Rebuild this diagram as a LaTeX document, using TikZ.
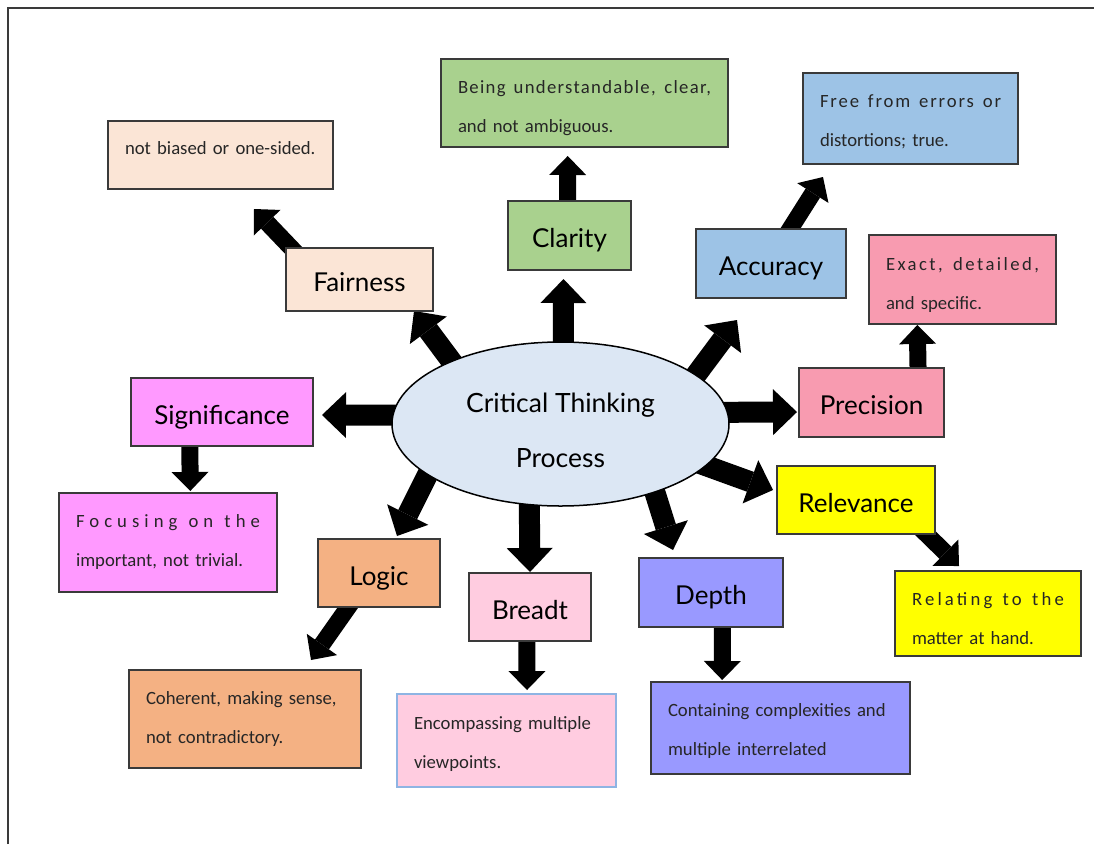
\documentclass[tikz,border=0pt]{standalone}
\usepackage{fontspec}
\setmainfont{Carlito}
\newfontfamily\labelfont{Lato}
\newfontfamily\descfont{Carlito}
\usetikzlibrary{arrows.meta,shapes.geometric,backgrounds}

\definecolor{boxline}{HTML}{3A3A3A}
\definecolor{coreblue}{HTML}{DCE7F4}
\definecolor{clgreen}{HTML}{A9D18E}
\definecolor{acblue}{HTML}{9DC3E6}
\definecolor{fapeach}{HTML}{FBE5D6}
\definecolor{prpink}{HTML}{F89BB0}
\definecolor{simagenta}{HTML}{FF99FF}
\definecolor{reyellow}{HTML}{FFFF00}
\definecolor{loorange}{HTML}{F4B183}
\definecolor{brpink}{HTML}{FFCCE0}
\definecolor{brline}{HTML}{8EB4E3}
\definecolor{deviolet}{HTML}{9999FF}

% one justified, letter-spaced line: width (pt), tracking, text
\newcommand\jl[3]{\makebox[#1pt][s]{\spaceskip=0pt\xspaceskip=0pt\addfontfeature{LetterSpace=#2}#3}}
% taller first line, to lower a text inside its shape
\newcommand\lift[1]{\rule{0pt}{#1pt}}

\tikzset{
  topic/.style={draw=boxline, line width=1.1pt, inner sep=0pt,
    text height=26pt, text depth=2pt,
    font=\labelfont\fontsize{26}{31}\selectfont},
  note/.style={draw=boxline, line width=1.1pt, inner xsep=17pt, inner ysep=0pt,
    align=left, font=\descfont\fontsize{18.7}{39}\selectfont, text=black!85},
  bigarrow/.style={line width=21pt, shorten <=-10pt,
    -{Triangle[width=46pt,length=24pt,line width=0pt]}},
  smallarrow/.style={line width=17pt, shorten <=-8pt,
    -{Triangle[width=37pt,length=19pt,line width=0pt]}}
}

\begin{document}
\begin{tikzpicture}[x=1pt,y=-1pt]
\useasboundingbox (0,0) rectangle (1094,844);

% page frame
\draw[line width=2pt, boxline] (8,844) -- (8,8) -- (1094,8);

% central idea
\node[ellipse, draw=black, line width=1.5pt, fill=coreblue, inner sep=0pt,
      minimum width=337pt, minimum height=164pt, align=center,
      font=\labelfont\fontsize{26.5}{55}\selectfont] (ct) at (560.5,424)
      {\lift{32}Critical Thinking\\Process};

% standards
\node[topic, fill=clgreen,   minimum width=123pt, minimum height=69pt] (cl) at (569.5,235.5) {Clarity};
\node[topic, fill=acblue,    minimum width=150pt, minimum height=69pt] (ac) at (771,263.5) {Accuracy};
\node[topic, fill=fapeach,   minimum width=147pt, minimum height=63pt] (fa) at (359.5,279.5) {Fairness};
\node[topic, fill=prpink,    minimum width=145pt, minimum height=69pt] (pr) at (871.5,402.5) {Precision};
\node[topic, fill=simagenta, minimum width=182pt, minimum height=68pt] (si) at (222,412) {Significance};
\node[topic, fill=reyellow,  minimum width=158pt, minimum height=68pt] (re) at (856,500) {Relevance};
\node[topic, fill=loorange,  minimum width=122pt, minimum height=68pt] (lo) at (379,573) {Logic};
\node[topic, fill=brpink,    minimum width=122pt, minimum height=68pt] (br) at (530,607) {Breadt};
\node[topic, fill=deviolet,  minimum width=144pt, minimum height=69pt] (de) at (711,592.5) {Depth};

% definitions
\node[note, fill=clgreen, text width=253pt, minimum height=88pt] (cld) at (584.5,103)
  {\lift{24}\jl{253}{7}{Being understandable, clear,}\\and not ambiguous.};
\node[note, fill=acblue, text width=181pt, minimum height=91pt] (acd) at (910.5,118.5)
  {\lift{20}\jl{181}{10}{Free from errors or}\\distortions; true.};
\node[note, fill=fapeach, text width=191pt, minimum height=68pt, text depth=14pt] (fad) at (220.5,155)
  {not biased or one-sided.};
\node[note, fill=prpink, text width=153pt, minimum height=89pt] (prd) at (962.5,279.5)
  {\lift{24}\jl{153}{13}{Exact, detailed,}\\and specific.};
\node[note, fill=simagenta, text width=184pt, minimum height=99pt] (sid) at (168,542.5)
  {\jl{184}{27}{Focusing on the}\\important, not trivial.};
\node[note, fill=reyellow, text width=152pt, minimum height=85pt] (red) at (988,613.5)
  {\lift{24}\jl{152}{17}{Relating to the}\\matter at hand.};
\node[note, fill=loorange, text width=198pt, minimum height=98pt] (lod) at (245,719)
  {Coherent, making sense,\\not contradictory.};
\node[note, fill=brpink, draw=brline, text width=185pt, minimum height=93pt] (brd) at (506.5,740.5)
  {\lift{20}Encompassing multiple\\viewpoints.};
\node[note, fill=deviolet, text width=225pt, minimum height=92pt] (ded) at (780.5,728)
  {\lift{18}Containing complexities and\\multiple interrelated};

% arrow tips
\coordinate (tCl) at (563.5,279);
\coordinate (tAc) at (737,320);
\coordinate (tFa) at (414,311);
\coordinate (tSi) at (322,415);
\coordinate (tPr) at (797,412);
\coordinate (tRe) at (773,490);
\coordinate (tDe) at (673,550);
\coordinate (tBr) at (530,572);
\coordinate (tLo) at (397,536);
\coordinate (tCld) at (567.7,156);
\coordinate (tAcd) at (823,177);
\coordinate (tFad) at (254,209);
\coordinate (tSid) at (190.3,491);
\coordinate (tPrd) at (917.3,325);
\coordinate (tRed) at (959,566);
\coordinate (tLod) at (311,660);
\coordinate (tBrd) at (527,690);
\coordinate (tDed) at (722.2,680);

% block arrows run beneath the shapes they leave
\begin{pgfonlayer}{background}
  \fill[white] (0,0) rectangle (1094,844);

  \draw[bigarrow] (ct.88)  -- (tCl);
  \draw[bigarrow] (ct.20)  -- (tAc);
  \draw[bigarrow] (ct.150) -- (tFa);
  \draw[bigarrow] (ct.177) -- (tSi);
  \draw[bigarrow] (ct.4)   -- (tPr);
  \draw[bigarrow] (ct.344) -- (tRe);
  \draw[bigarrow] (ct.324) -- (tDe);
  \draw[bigarrow] (ct.249) -- (tBr);
  \draw[bigarrow] (ct.201) -- (tLo);

  \draw[smallarrow] (cl.93)  -- (tCld);
  \draw[smallarrow] (ac.61)  -- (tAcd);
  \draw[smallarrow] (fa.155) -- (tFad);
  \draw[smallarrow] (si.227) -- (tSid);
  \draw[smallarrow] (pr.37)  -- (tPrd);
  \draw[smallarrow] (re.334) -- (tRed);
  \draw[smallarrow] (lo.228) -- (tLod);
  \draw[smallarrow] (br.265) -- (tBrd);
  \draw[smallarrow] (de.288) -- (tDed);
\end{pgfonlayer}
\end{tikzpicture}
\end{document}
